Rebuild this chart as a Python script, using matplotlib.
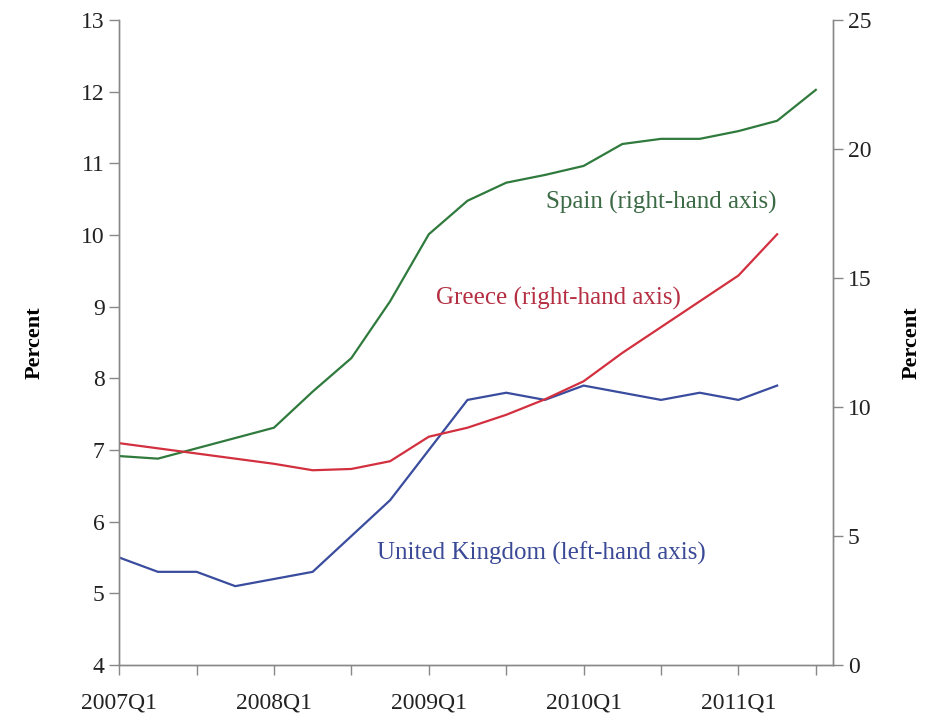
import matplotlib.pyplot as plt

# quarters 2007Q1 .. 2011Q3
quarters = ["2007Q1", "2007Q2", "2007Q3", "2007Q4",
            "2008Q1", "2008Q2", "2008Q3", "2008Q4",
            "2009Q1", "2009Q2", "2009Q3", "2009Q4",
            "2010Q1", "2010Q2", "2010Q3", "2010Q4",
            "2011Q1", "2011Q2", "2011Q3"]

# United Kingdom, left axis (to 2011Q2)
uk = [5.5, 5.3, 5.3, 5.1, 5.2, 5.3, 5.8, 6.3, 7.0, 7.7, 7.8, 7.7,
      7.9, 7.8, 7.7, 7.8, 7.7, 7.9]
# Spain, right axis (to 2011Q3)
spain = [8.1, 8.0, 8.4, 8.8, 9.2, 10.6, 11.9, 14.1, 16.7, 18.0, 18.7, 19.0,
         19.35, 20.2, 20.4, 20.4, 20.7, 21.1, 22.3]
# Greece, right axis (to 2011Q2)
greece = [8.6, 8.4, 8.2, 8.0, 7.8, 7.55, 7.6, 7.9, 8.85, 9.2, 9.7, 10.3,
          11.0, 12.1, 13.1, 14.1, 15.1, 16.7]

plt.rcParams['font.family'] = ['Liberation Serif', 'DejaVu Serif']

fig = plt.figure(figsize=(9.31, 7.22), dpi=100)
ax = fig.add_axes([0.128, 0.079, 0.767, 0.893])
ax2 = ax.twinx()

x_uk = list(range(len(uk)))
x_sp = list(range(len(spain)))
x_gr = list(range(len(greece)))

ax.plot(x_uk, uk, color='#3a4c9e', lw=1.6)
ax2.plot(x_sp, spain, color='#2f7a3c', lw=1.6)
ax2.plot(x_gr, greece, color='#d3303f', lw=1.6)

ax.set_xlim(0, 18.45)
ax.set_ylim(4, 13)
ax2.set_ylim(0, 25)
ax.set_yticks(range(4, 14))
ax2.set_yticks(range(0, 26, 5))

ticks = list(range(0, 19, 2))
ax.set_xticks(ticks)
ax.set_xticklabels([quarters[t] if t % 4 == 0 else "" for t in ticks])

spine_c = '#888888'
for a in (ax, ax2):
    a.spines['top'].set_visible(False)
    for s in ('left', 'right', 'bottom'):
        a.spines[s].set_color(spine_c)
        a.spines[s].set_linewidth(1.0)
    a.tick_params(colors=spine_c, labelcolor='#222222', labelsize=17, length=7, width=1)
ax.tick_params(axis='x', pad=13)

ax.set_ylabel("Percent", fontsize=16, fontweight='bold', labelpad=26)
ax2.set_ylabel("Percent", fontsize=16, fontweight='bold', labelpad=22)

ax.text(14.0, 10.46, "Spain (right-hand axis)", color='#3b6a44', fontsize=18,
        ha='center', va='center')
ax.text(11.35, 9.12, "Greece (right-hand axis)", color='#b52f42', fontsize=18,
        ha='center', va='center')
ax.text(10.9, 5.56, "United Kingdom (left-hand axis)", color='#3a4a96', fontsize=18,
        ha='center', va='center')

fig.savefig("out.png", dpi=100)
